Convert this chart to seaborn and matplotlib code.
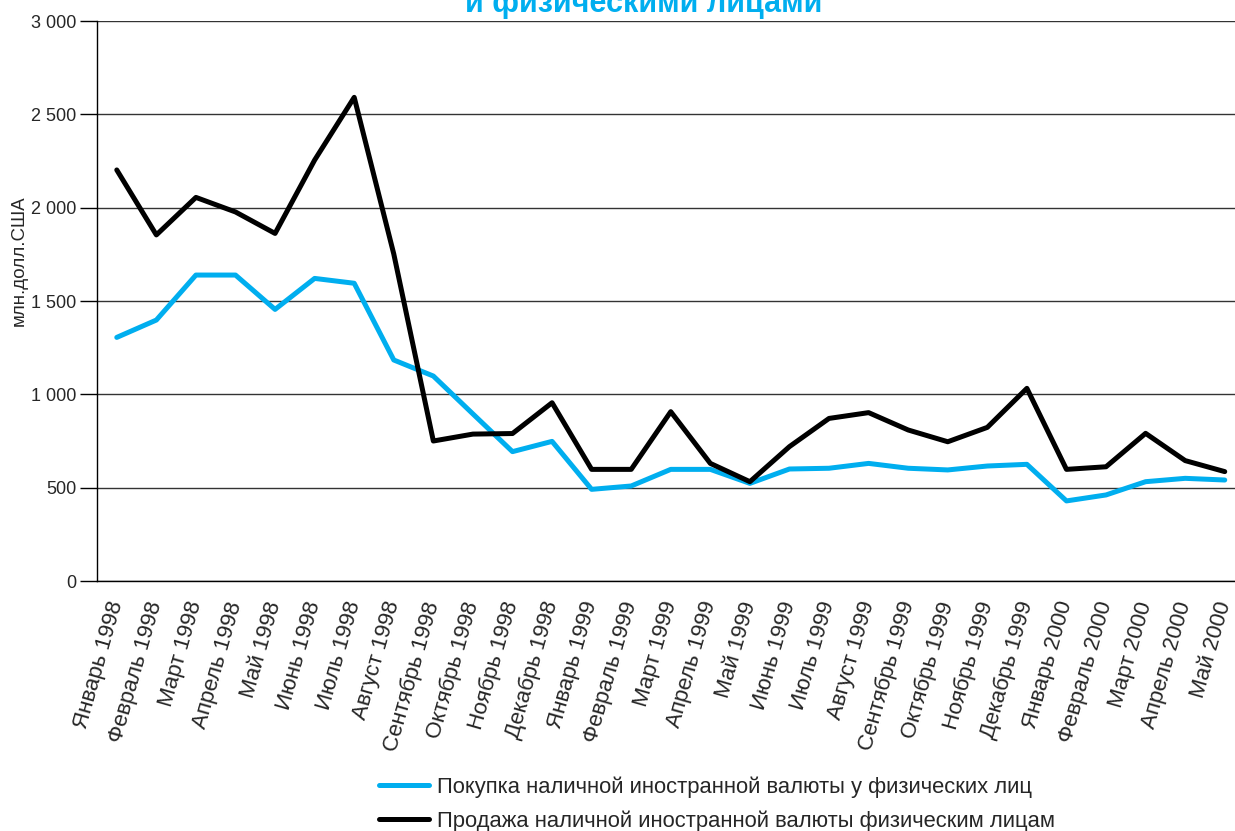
import matplotlib
matplotlib.use("Agg")
import matplotlib.pyplot as plt
import numpy as np
import pandas as pd
import seaborn as sns

# month labels, Jan 1998 .. May 2000
months = [
    "Январь 1998", "Февраль 1998", "Март 1998", "Апрель 1998", "Май 1998",
    "Июнь 1998", "Июль 1998", "Август 1998", "Сентябрь 1998", "Октябрь 1998",
    "Ноябрь 1998", "Декабрь 1998", "Январь 1999", "Февраль 1999", "Март 1999",
    "Апрель 1999", "Май 1999", "Июнь 1999", "Июль 1999", "Август 1999",
    "Сентябрь 1999", "Октябрь 1999", "Ноябрь 1999", "Декабрь 1999",
    "Январь 2000", "Февраль 2000", "Март 2000", "Апрель 2000", "Май 2000",
]

# млн. долл. США
purchase = [1305, 1398, 1639, 1639, 1455, 1621, 1595, 1184, 1098, 895,
            693, 748, 491, 509, 598, 598, 523, 600, 604, 630,
            604, 595, 616, 625, 429, 461, 532, 550, 541]
sale = [2202, 1854, 2055, 1977, 1862, 2255, 2591, 1752, 750, 787,
        790, 955, 598, 598, 907, 630, 532, 720, 871, 902,
        809, 746, 823, 1032, 598, 612, 791, 645, 586]

label_buy = "Покупка наличной иностранной валюты у физических лиц"
label_sell = "Продажа наличной иностранной валюты физическим лицам"
title_tail = "и физическими лицами"

BLUE = "#00AEEF"

sns.set_theme(style="white")
plt.rcParams["font.family"] = ["Liberation Sans", "DejaVu Sans"]

df = pd.DataFrame({
    "idx": np.tile(np.arange(len(months)), 2),
    "value": purchase + sale,
    "series": [label_buy] * len(months) + [label_sell] * len(months),
})

W, H = 1235, 831
fig = plt.figure(figsize=(W / 100, H / 100), dpi=100)
# plot area: left edge at x=97px, y from 21 to 581px; right side runs off the image
ax = fig.add_axes([97 / W, (H - 581) / H, 29 * 39.57 / W, 560 / H])

sns.lineplot(data=df, x="idx", y="value", hue="series",
             palette={label_buy: BLUE, label_sell: "black"},
             linewidth=3.6, ax=ax, legend=False, zorder=3)

ax.set_xlim(-0.5, len(months) - 0.5)
ax.set_ylim(0, 3000)
ax.set_yticks(np.arange(0, 3001, 500))
ax.set_yticklabels([f"{v:,}".replace(",", " ") for v in range(0, 3001, 500)], fontsize=13)
ax.yaxis.grid(True, color="#333333", linewidth=1)
ax.set_axisbelow(True)

# labels at category centres, tick marks at category boundaries
ax.set_xticks(np.arange(len(months)))
ax.set_xticklabels(months, rotation=74, ha="right", va="center",
                   rotation_mode="anchor", fontsize=16)
ax.set_xticks(np.arange(len(months) + 1) - 0.5, minor=True)
ax.tick_params(axis="x", which="major", length=0, pad=15)
ax.tick_params(axis="x", which="minor", length=6, width=1, color="black", direction="out")
ax.tick_params(axis="y", length=12, width=1, color="black", direction="out", pad=3, left=True)

for s in ["top", "right"]:
    ax.spines[s].set_visible(False)
for s in ["left", "bottom"]:
    ax.spines[s].set_color("black")
    ax.spines[s].set_linewidth(1)
ax.set_xlabel("")
ax.set_ylabel("")

fig.text(19 / W, 1 - 261 / H, "млн.долл.США", rotation=90, ha="center", va="center", fontsize=13.5)
fig.text(644 / W, 1 - 12 / H, title_tail, ha="center", va="baseline",
         fontsize=22, fontweight="bold", color=BLUE)

handles = [plt.Line2D([], [], color=BLUE, lw=3.6), plt.Line2D([], [], color="black", lw=3.6)]
fig.legend(handles, [label_buy, label_sell], loc="upper left",
           bbox_to_anchor=(379 / W, 1 - 776 / H), frameon=False, fontsize=15.8,
           handlelength=2.3, handletextpad=0.33, labelspacing=0.6,
           borderpad=0, borderaxespad=0)

fig.savefig("out.png", dpi=100)
